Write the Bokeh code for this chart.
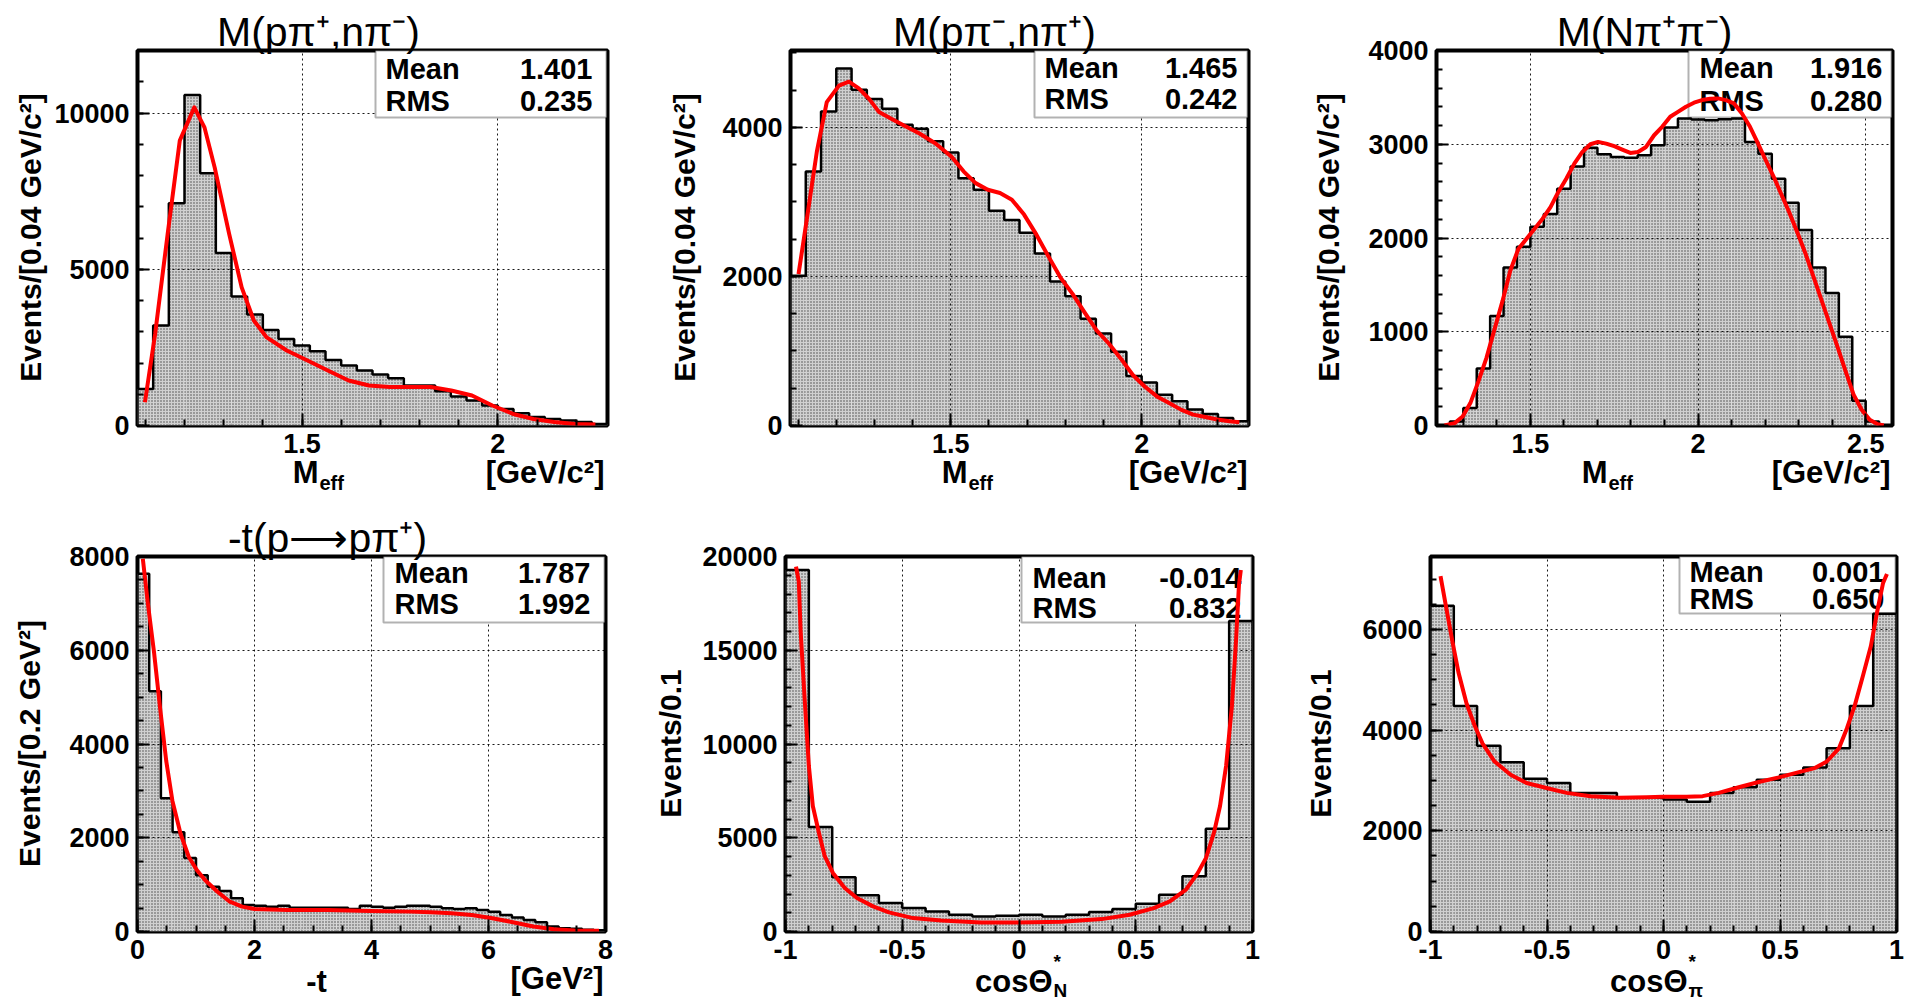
import numpy as np
from math import pi
from bokeh.plotting import figure
from bokeh.layouts import column, row
from bokeh.models import (Range1d, SingleIntervalTicker, CustomJSTickFormatter,
                          Label, BoxAnnotation, GridBox)
from bokeh.embed import file_html
from bokeh.resources import INLINE

FONT = "Liberation Sans"
PAGE_W, PAGE_H = 1905, 1006

# ---------------- data ----------------
# Panel 1: M(p pi+, n pi-)
p1_title = "M(pπ⁺,nπ⁻)"
p1_ylabel = "Events/[0.04 GeV/c²]"
p1_lo, p1_bw = 1.08, 0.04
p1_counts = [1170, 3200, 7110, 10580, 8070, 5520, 4130, 3550, 3060, 2770, 2560, 2380,
             2100, 1920, 1760, 1630, 1510, 1280, 1280, 1100, 930, 800, 640, 530, 390,
             270, 210, 160, 110, 50]
p1_fit_x = [1.099, 1.125, 1.157, 1.188, 1.225, 1.251, 1.277, 1.314, 1.346, 1.377, 1.409,
            1.461, 1.514, 1.566, 1.619, 1.671, 1.724, 1.776, 1.829, 1.881, 1.934, 1.986,
            2.039, 2.091, 2.144, 2.196, 2.249]
p1_fit_y = [746, 2930, 6130, 9120, 10180, 9540, 8260, 6130, 4420, 3360, 2830, 2400, 2080,
            1760, 1440, 1280, 1230, 1230, 1230, 1120, 960, 640, 370, 210, 110, 50, 30]
p1_stats = ["1.401", "0.235"]

# Panel 2: M(p pi-, n pi+)
p2_title = "M(pπ⁻,nπ⁺)"
p2_ylabel = "Events/[0.04 GeV/c²]"
p2_lo, p2_bw = 1.08, 0.04
p2_counts = [2010, 3406, 4213, 4789, 4505, 4381, 4248, 4035, 3982, 3814, 3663, 3317, 3162,
             2882, 2758, 2585, 2306, 1933, 1734, 1432, 1233, 989, 665, 576, 412, 324, 213,
             155, 102, 58]
p2_fit_x = [1.101, 1.122, 1.149, 1.175, 1.207, 1.233, 1.259, 1.286, 1.312, 1.344, 1.376,
            1.418, 1.460, 1.502, 1.534, 1.565, 1.597, 1.629, 1.660, 1.692, 1.724, 1.755,
            1.787, 1.819, 1.850, 1.882, 1.914, 1.945, 1.977, 2.008, 2.040, 2.072, 2.103,
            2.135, 2.167, 2.198, 2.230, 2.256]
p2_fit_y = [2031, 2741, 3672, 4337, 4559, 4612, 4523, 4381, 4204, 4115, 4027, 3916, 3783,
            3605, 3406, 3251, 3162, 3118, 3029, 2829, 2563, 2275, 1987, 1765, 1521, 1277,
            1100, 900, 678, 523, 390, 302, 213, 146, 115, 80, 58, 44]
p2_stats = ["1.465", "0.242"]

# Panel 3: M(N pi+ pi-)
p3_title = "M(Nπ⁺π⁻)"
p3_ylabel = "Events/[0.04 GeV/c²]"
p3_lo, p3_bw = 1.22, 0.04
p3_counts = [0, 43, 186, 607, 1168, 1686, 1907, 2121, 2257, 2525, 2764, 2964, 2893, 2864,
             2857, 2882, 2989, 3179, 3275, 3264, 3257, 3268, 3275, 3025, 2900, 2632, 2375,
             2086, 1686, 1414, 946, 264, 43, 0]
p3_fit_x = [1.244, 1.274, 1.298, 1.321, 1.345, 1.369, 1.393, 1.417, 1.440, 1.464, 1.488,
            1.512, 1.536, 1.560, 1.583, 1.607, 1.631, 1.655, 1.679, 1.702, 1.726, 1.750,
            1.774, 1.798, 1.821, 1.845, 1.869, 1.893, 1.917, 1.940, 1.964, 1.988, 2.012,
            2.036, 2.060, 2.083, 2.107, 2.131, 2.155, 2.179, 2.202, 2.226, 2.250, 2.274,
            2.298, 2.321, 2.345, 2.369, 2.393, 2.417, 2.440, 2.464, 2.488, 2.512, 2.536,
            2.554]
p3_fit_y = [0, 25, 96, 239, 471, 721, 1025, 1329, 1650, 1882, 1989, 2096, 2204, 2329, 2489,
            2632, 2793, 2918, 3000, 3025, 3007, 2979, 2943, 2907, 2918, 2971, 3096, 3186,
            3293, 3346, 3400, 3443, 3471, 3486, 3489, 3471, 3436, 3329, 3186, 3007, 2829,
            2650, 2454, 2257, 2043, 1829, 1579, 1329, 1079, 829, 579, 329, 168, 61, 14, 0]
p3_stats = ["1.916", "0.280"]

# Panel 4: -t(p -> p pi+)
p4_title = "-t(p⟶pπ⁺)"
p4_ylabel = "Events/[0.2 GeV²]"
p4_lo, p4_bw = 0.0, 0.2
p4_counts = [7632, 5124, 2841, 2120, 1569, 1201, 954, 862, 707, 565, 551, 530, 551, 509,
             509, 509, 509, 509, 480, 551, 530, 509, 530, 551, 551, 530, 495, 480, 495,
             459, 424, 353, 297, 247, 198, 106, 71, 57, 35, 28]
p4_fit_x = [0.091, 0.175, 0.281, 0.386, 0.491, 0.596, 0.736, 0.877, 1.017, 1.157, 1.367,
            1.578, 1.788, 1.999, 2.560, 3.261, 3.962, 4.663, 5.014, 5.365, 5.715, 6.066,
            6.417, 6.767, 7.118, 7.468, 7.889]
p4_fit_y = [7951, 7021, 5972, 4770, 3640, 2792, 2085, 1590, 1307, 1095, 848, 636, 530, 481,
            459, 459, 438, 424, 410, 389, 353, 283, 198, 106, 49, 21, 14]
p4_stats = ["1.787", "1.992"]

# Panel 5: cos Theta*_N
p5_ylabel = "Events/0.1"
p5_lo, p5_bw = -1.0, 0.1
p5_counts = [19286, 5571, 2893, 1929, 1518, 1250, 1071, 893, 804, 839, 893, 804, 893, 1036,
             1196, 1482, 1964, 2946, 5482, 16554]
p5_fit_x = [-0.955, -0.943, -0.935, -0.918, -0.900, -0.883, -0.857, -0.832, -0.797, -0.746,
            -0.694, -0.625, -0.557, -0.454, -0.333, -0.162, -0.003, 0.182, 0.354, 0.474,
            0.577, 0.646, 0.715, 0.766, 0.801, 0.835, 0.861, 0.887, 0.912, 0.930, 0.942,
            0.950]
p5_fit_y = [19464, 18661, 15982, 12411, 8839, 6696, 5268, 4018, 3125, 2321, 1786, 1339, 1018,
            714, 589, 482, 482, 518, 661, 893, 1250, 1607, 2232, 3125, 3929, 5268, 6696,
            8839, 12054, 15625, 18482, 19286]
p5_stats = ["-0.014", "0.832"]

# Panel 6: cos Theta*_pi
p6_ylabel = "Events/0.1"
p6_lo, p6_bw = -1.0, 0.1
p6_counts = [6472, 4479, 3692, 3364, 3036, 2951, 2754, 2754, 2656, 2656, 2623, 2577, 2754,
             2866, 3016, 3115, 3259, 3639, 4479, 6315]
p6_fit_x = [-0.957, -0.931, -0.905, -0.880, -0.845, -0.811, -0.777, -0.725, -0.656, -0.588,
            -0.502, -0.416, -0.313, -0.192, -0.072, -0.003, 0.100, 0.168, 0.237, 0.323,
            0.409, 0.495, 0.581, 0.649, 0.701, 0.753, 0.787, 0.821, 0.856, 0.890, 0.916,
            0.942, 0.959]
p6_fit_y = [7062, 6393, 5738, 5148, 4525, 4098, 3738, 3377, 3115, 2951, 2852, 2754, 2689,
            2656, 2669, 2675, 2675, 2689, 2754, 2866, 2970, 3062, 3167, 3246, 3377, 3639,
            4033, 4492, 5082, 5672, 6328, 6918, 7102]
p6_stats = ["0.001", "0.650"]

# ---------------- helpers ----------------
def make_panel(w, h, bl, br, bt, bb, xr, yr, xint, xminor, yint, yminor):
    p = figure(width=w, height=h, x_range=Range1d(*xr), y_range=Range1d(*yr),
               output_backend="svg", toolbar_location=None, tools="",
               title_location=None,
               min_border_left=bl, min_border_right=br,
               min_border_top=bt, min_border_bottom=bb)
    p.background_fill_color = "white"
    p.border_fill_color = "white"
    p.outline_line_color = "black"
    p.outline_line_width = 4
    xt = SingleIntervalTicker(interval=xint, num_minor_ticks=xminor)
    yt = SingleIntervalTicker(interval=yint, num_minor_ticks=yminor)
    for ax, t in ((p.xaxis[0], xt), (p.yaxis[0], yt)):
        ax.ticker = t
        ax.formatter = CustomJSTickFormatter(code="return String(Math.round(tick*1000)/1000);")
        ax.major_tick_in = 12
        ax.major_tick_out = 0
        ax.minor_tick_in = 6
        ax.minor_tick_out = 0
        ax.major_tick_line_width = 2
        ax.minor_tick_line_width = 2
        ax.axis_line_color = None
        ax.major_label_text_font = FONT
        ax.major_label_text_font_style = "bold"
        ax.major_label_text_font_size = "27px"
        ax.major_label_text_color = "black"
        ax.major_label_standoff = 8
    p.xgrid.ticker = xt
    p.ygrid.ticker = yt
    for g in (p.xgrid[0], p.ygrid[0]):
        g.grid_line_color = "black"
        g.grid_line_dash = "2 3"
        g.grid_line_width = 1
        g.grid_line_alpha = 0.9
    geo = dict(fw=w - bl - br, fh=h - bt - bb, xr=xr, yr=yr)
    return p, geo


def to_data(geo, dx, dy):
    (x0, x1), (y0, y1) = geo["xr"], geo["yr"]
    return x0 + dx / geo["fw"] * (x1 - x0), y0 + dy / geo["fh"] * (y1 - y0)


def txt(p, dx, dy, s, size, align="left"):
    # dx, dy: pixel offsets from the frame's bottom-left corner
    p.add_layout(Label(x=dx, y=dy, x_units="screen", y_units="screen", text=s,
                       text_font=FONT, text_font_size=f"{size}px", text_font_style="bold",
                       text_align=align, text_baseline="middle", text_color="black",
                       level="underlay"))


def draw_hist(p, lo, bw, counts):
    edges = lo + bw * np.arange(len(counts) + 1)
    r = p.quad(left=edges[:-1], right=edges[1:], bottom=0, top=counts,
               fill_color="#d0d0d0", line_color=None,
               hatch_pattern="dot", hatch_scale=3, hatch_color="#444444", hatch_weight=1)
    r.level = "image"
    xs, ys = [edges[0]], [0]
    for i, c in enumerate(counts):
        xs += [edges[i], edges[i + 1]]
        ys += [c, c]
    xs.append(edges[-1]); ys.append(0)
    p.line(xs, ys, line_color="black", line_width=2.5)


def stat_box(p, geo, bleft, bbottom, tx, vx, y1, y2, stats):
    l, b = to_data(geo, bleft, bbottom)
    r, t = to_data(geo, geo["fw"] - 1, geo["fh"])
    p.add_layout(BoxAnnotation(left=l, right=r, bottom=b, top=t, fill_color="white",
                               fill_alpha=1.0, line_color="black", line_width=2,
                               level="underlay"))
    txt(p, tx, y1, "Mean", 29)
    txt(p, vx, y1, stats[0], 29, align="right")
    txt(p, tx, y2, "RMS", 29)
    txt(p, vx, y2, stats[1], 29, align="right")


def fit_line(p, fx, fy):
    p.line(fx, fy, line_color="#ff0000", line_width=4, line_join="round")


# ---------------- panels ----------------
f1, g1 = make_panel(650, 500, 137, 43, 50, 75, (1.08, 2.28), (0, 12000), 0.5, 5, 5000, 5)
draw_hist(f1, p1_lo, p1_bw, p1_counts)
stat_box(f1, g1, 238, 308, 248, 455, 357, 325, p1_stats)
fit_line(f1, p1_fit_x, p1_fit_y)

f2, g2 = make_panel(640, 500, 140, 42, 50, 75, (1.08, 2.28), (0, 5030), 0.5, 5, 2000, 4)
draw_hist(f2, p2_lo, p2_bw, p2_counts)
stat_box(f2, g2, 244, 308, 254, 447, 358, 327, p2_stats)
fit_line(f2, p2_fit_x, p2_fit_y)

f3, g3 = make_panel(615, 500, 146, 13, 50, 75, (1.22, 2.58), (0, 4000), 0.5, 5, 1000, 5)
draw_hist(f3, p3_lo, p3_bw, p3_counts)
stat_box(f3, g3, 252, 308, 263, 446, 358, 325, p3_stats)
fit_line(f3, p3_fit_x, p3_fit_y)

f4, g4 = make_panel(650, 506, 137, 45, 56, 75, (0, 8), (0, 8000), 2, 4, 2000, 4)
draw_hist(f4, p4_lo, p4_bw, p4_counts)
stat_box(f4, g4, 246, 309, 257, 453, 359, 328, p4_stats)
fit_line(f4, p4_fit_x, p4_fit_y)

f5, g5 = make_panel(640, 506, 135, 38, 56, 75, (-1, 1), (0, 20000), 0.5, 5, 5000, 5)
draw_hist(f5, p5_lo, p5_bw, p5_counts)
stat_box(f5, g5, 236, 309, 247, 456, 354, 324, p5_stats)
fit_line(f5, p5_fit_x, p5_fit_y)

f6, g6 = make_panel(615, 506, 140, 9, 56, 75, (-1, 1), (0, 7450), 0.5, 5, 2000, 4)
draw_hist(f6, p6_lo, p6_bw, p6_counts)
stat_box(f6, g6, 249, 318, 259, 454, 360, 333, p6_stats)
fit_line(f6, p6_fit_x, p6_fit_y)

panels = column(row(f1, f2, f3), row(f4, f5, f6))

# ---------------- transparent text layer over the whole page ----------------
ov = figure(width=PAGE_W, height=PAGE_H, x_range=Range1d(0, PAGE_W),
            y_range=Range1d(0, PAGE_H), output_backend="svg", toolbar_location=None,
            tools="", title_location=None, x_axis_location=None, y_axis_location=None,
            min_border=0)
ov.background_fill_color = None
ov.border_fill_color = None
ov.outline_line_color = None
ov.grid.grid_line_color = None


def otext(x, y, s, size, bold=True, align="center", angle=0.0):
    # x, y in page pixels (y downward)
    ov.add_layout(Label(x=x, y=PAGE_H - y, text=s, text_font=FONT,
                        text_font_size=f"{size}px",
                        text_font_style="bold" if bold else "normal",
                        text_align=align, text_baseline="middle", angle=angle,
                        text_color="black"))


# panel titles
otext(318, 31, p1_title, 41, bold=False)
otext(994, 31, p2_title, 41, bold=False)
otext(1644, 31, p3_title, 41, bold=False)
otext(327, 537, p4_title, 41, bold=False)

# y axis titles
otext(30, 237, p1_ylabel, 30, angle=pi / 2)
otext(684, 237, p2_ylabel, 30, angle=pi / 2)
otext(1328, 237, p3_ylabel, 30, angle=pi / 2)
otext(29, 743, p4_ylabel, 30, angle=pi / 2)
otext(670, 743, p5_ylabel, 30, angle=pi / 2)
otext(1320, 743, p6_ylabel, 30, angle=pi / 2)


# x axis titles
def meff(m_right, unit_right, y):
    otext(m_right, y, "M", 31, align="right")
    otext(m_right + 1, y + 10, "eff", 20, align="left")
    otext(unit_right, y, "[GeV/c²]", 31, align="right")


meff(318, 604, 472)
meff(967, 1247, 472)
meff(1607, 1890, 472)
otext(316, 981, "-t", 31)
otext(603, 978, "[GeV²]", 31, align="right")
for r_edge, sub in ((1052, "N"), (1687, "π")):
    otext(r_edge, 981, "cosΘ", 31, align="right")
    otext(r_edge + 1, 961, "*", 19, align="left")
    otext(r_edge + 1, 990, sub, 19, align="left")

p = GridBox(children=[(panels, 0, 0), (ov, 0, 0)])
open("out.html", "w").write(file_html(p, INLINE))
